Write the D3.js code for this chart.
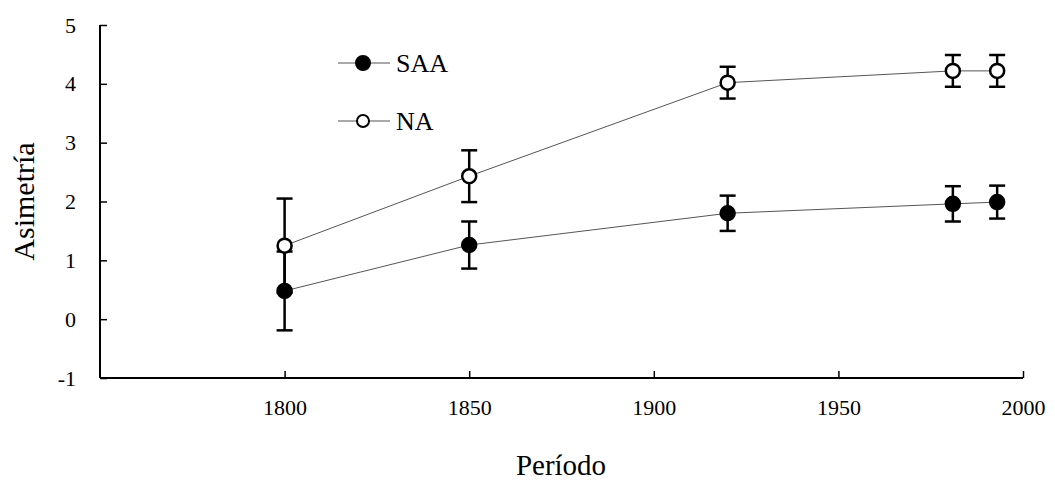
<!DOCTYPE html>
<html>
<head>
<meta charset="utf-8">
<script src="https://cdn.jsdelivr.net/npm/d3@7"></script>
<style>
body { margin: 0; background: #fff; }
svg { display: block; }
text { font-family: "Liberation Serif", "DejaVu Serif", serif; fill: #000; }
</style>
</head>
<body>
<svg></svg>
<script>
var years = [1800, 1850, 1920, 1981, 1993];
var saaValues = [0.48, 1.26, 1.80, 1.96, 1.99];
var saaErrors = [0.67, 0.40, 0.30, 0.30, 0.28];
var naValues = [1.25, 2.43, 4.02, 4.22, 4.22];
var naErrors = [0.80, 0.44, 0.27, 0.27, 0.27];
var xTicks = [1800, 1850, 1900, 1950, 2000];
var yTicks = [-1, 0, 1, 2, 3, 4, 5];

var W = 1055, H = 483;
var svg = d3.select("svg").attr("width", W).attr("height", H);

var x = d3.scaleLinear().domain([1750, 2000]).range([100, 1023]);
var y = d3.scaleLinear().domain([-1, 5]).range([378, 25]);

var series = [
    { id: "SAA", fill: "#000", values: saaValues, errors: saaErrors },
    { id: "NA", fill: "#fff", values: naValues, errors: naErrors }
];

// axes
var xAxis = svg.append("g")
    .attr("transform", "translate(0," + y(-1) + ")")
    .call(d3.axisBottom(x).tickValues(xTicks).tickSize(-7).tickPadding(22).tickFormat(function (d) { return String(d); }));
xAxis.select(".domain").attr("d", "M" + x(1750) + ",0H" + x(2000)).attr("stroke-width", 2);
xAxis.selectAll(".tick line").attr("stroke-width", 1.5);
xAxis.selectAll(".tick text").style("font-size", "22px").attr("dy", "0.7em");

var yAxis = svg.append("g")
    .attr("transform", "translate(" + x(1750) + ",0)")
    .call(d3.axisLeft(y).tickValues(yTicks).tickSize(-7).tickPadding(24).tickFormat(function (d) { return String(d); }));
yAxis.select(".domain").attr("d", "M0," + y(-1) + "V" + y(5)).attr("stroke-width", 2);
yAxis.selectAll(".tick line").attr("stroke-width", 1.5);
yAxis.selectAll(".tick text").style("font-size", "22px");

svg.append("text")
    .attr("transform", "translate(34," + y(2) + ") rotate(-90)")
    .attr("text-anchor", "middle")
    .style("font-size", "30px")
    .text("Asimetría");

svg.append("text")
    .attr("x", 561)
    .attr("y", 475)
    .attr("text-anchor", "middle")
    .style("font-size", "29px")
    .text("Período");

var line = d3.line()
    .x(function (d, i) { return x(years[i]); })
    .y(function (d) { return y(d); });

var grp = svg.selectAll(".series")
    .data(series)
    .enter().append("g")
    .attr("class", "series");

grp.append("path")
    .attr("d", function (d) { return line(d.values); })
    .attr("fill", "none")
    .attr("stroke", "#555")
    .attr("stroke-width", 1);

var bars = grp.selectAll(".err")
    .data(function (s) { return s.values.map(function (v, i) { return { yr: years[i], v: v, e: s.errors[i] }; }); })
    .enter().append("g")
    .attr("class", "err")
    .attr("stroke", "#000")
    .attr("stroke-width", 2.5);

bars.append("line")
    .attr("x1", function (d) { return x(d.yr); })
    .attr("x2", function (d) { return x(d.yr); })
    .attr("y1", function (d) { return y(d.v - d.e); })
    .attr("y2", function (d) { return y(d.v + d.e); });
bars.append("line")
    .attr("x1", function (d) { return x(d.yr) - 8; })
    .attr("x2", function (d) { return x(d.yr) + 8; })
    .attr("y1", function (d) { return y(d.v + d.e); })
    .attr("y2", function (d) { return y(d.v + d.e); });
bars.append("line")
    .attr("x1", function (d) { return x(d.yr) - 8; })
    .attr("x2", function (d) { return x(d.yr) + 8; })
    .attr("y1", function (d) { return y(d.v - d.e); })
    .attr("y2", function (d) { return y(d.v - d.e); });

grp.selectAll(".dot")
    .data(function (s) { return s.values.map(function (v, i) { return { yr: years[i], v: v, fill: s.fill }; }); })
    .enter().append("circle")
    .attr("cx", function (d) { return x(d.yr); })
    .attr("cy", function (d) { return y(d.v); })
    .attr("r", 7)
    .attr("fill", function (d) { return d.fill; })
    .attr("stroke", "#000")
    .attr("stroke-width", 2.5);

// legend
var legend = svg.selectAll(".legend")
    .data(series)
    .enter().append("g")
    .attr("class", "legend")
    .attr("transform", function (d, i) { return "translate(338," + (63 + i * 58) + ")"; });
legend.append("line")
    .attr("x1", 0).attr("x2", 52)
    .attr("stroke", "#555").attr("stroke-width", 1);
legend.append("circle")
    .attr("cx", 25).attr("r", function (d, i) { return i ? 6 : 7; })
    .attr("fill", function (d) { return d.fill; })
    .attr("stroke", "#000").attr("stroke-width", 2);
legend.append("text")
    .attr("x", 58).attr("dy", "0.35em")
    .style("font-size", "26px")
    .text(function (d) { return d.id; });
</script>
</body>
</html>
